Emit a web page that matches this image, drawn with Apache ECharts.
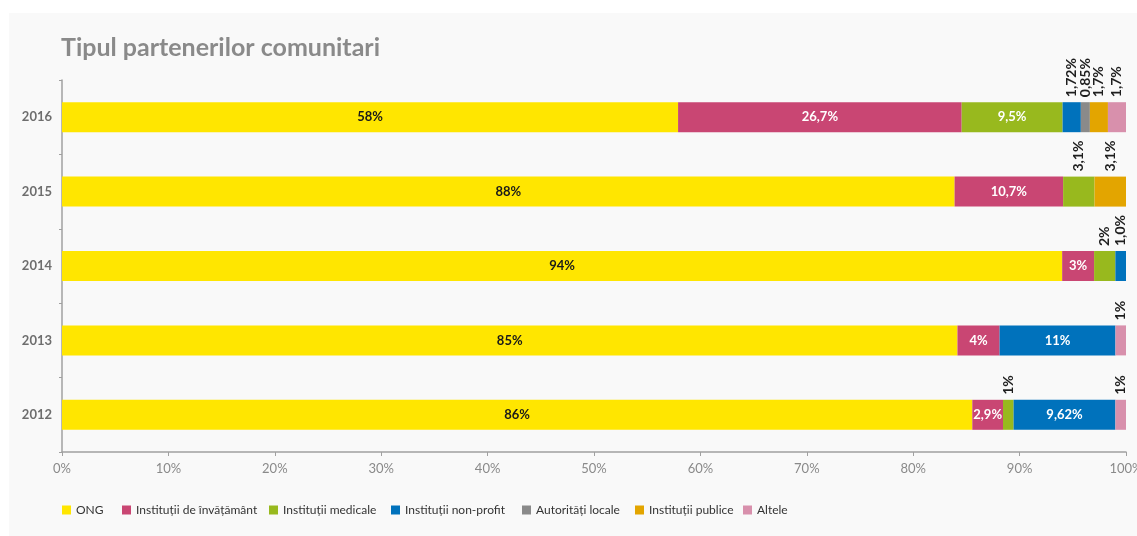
<!DOCTYPE html>
<html>
<head>
<meta charset="utf-8">
<script src="https://cdn.jsdelivr.net/npm/echarts@6/dist/echarts.min.js"></script>
<style>
  html, body { margin: 0; padding: 0; background: #ffffff; overflow: hidden; width: 1137px; height: 536px; }
  #panel { position: absolute; left: 9px; top: 13px; width: 1128px; height: 523px; background: #f9f9f9; }
  #chart { position: absolute; left: 0; top: 0; width: 1137px; height: 536px; }
</style>
</head>
<body>
<div id="panel"></div>
<div id="chart"></div>
<script>
// ---- data ----
const years = ['2016', '2015', '2014', '2013', '2012'];
const seriesNames = ['ONG', 'Instituții de învățământ', 'Instituții medicale', 'Instituții non-profit', 'Autorități locale', 'Instituții publice', 'Altele'];
const ong        = [58,   88,   94,  85, 86];
const invatamant = [26.7, 10.7, 3,   4,  2.9];
const medicale   = [9.5,  3.1,  2,   0,  1];
const nonProfit  = [1.72, 0,    1.0, 11, 9.62];
const autoritati = [0.85, 0,    0,   0,  0];
const publice    = [1.7,  3.1,  0,   0,  0];
const altele     = [1.7,  0,    0,   1,  1];
const xTicks = [0, 10, 20, 30, 40, 50, 60, 70, 80, 90, 100];
const labelOverrides = { 'Instituții non-profit|2014': '1,0%' };

// ---- styles ----
const colors = ['#FFE600', '#C94673', '#98B91E', '#0072BC', '#8A8A8A', '#E3A500', '#D890AC'];
const legendX = [62, 122, 269, 391, 522, 635, 743];
const FONT = 'Lato, "Noto Sans", sans-serif';

const allSeries = [ong, invatamant, medicale, nonProfit, autoritati, publice, altele];
const totals = years.map((y, i) => allSeries.reduce((s, arr) => s + arr[i], 0));

function fmt(v) {
  return String(v).replace('.', ',') + '%';
}

const series = allSeries.map((arr, si) => ({
  name: seriesNames[si],
  type: 'bar',
  stack: 'total',
  barWidth: 30,
  itemStyle: { color: colors[si] },
  emphasis: { disabled: true },
  data: arr.map((v, i) => {
    const txt = labelOverrides[seriesNames[si] + '|' + years[i]] || fmt(v);
    const item = { value: v === 0 ? '-' : v / totals[i] * 100 };
    if (v === 0) {
      item.label = { show: false };
    } else if (si >= 2 && v < 5) {
      item.label = {
        show: true, position: 'top', rotate: 90, align: 'left', verticalAlign: 'middle',
        distance: 5, color: '#1e1e1e', fontSize: 14, fontWeight: 'bold', fontFamily: FONT,
        formatter: () => txt
      };
    } else {
      item.label = {
        show: true, position: 'inside', color: si === 0 ? '#1a1a1a' : '#ffffff',
        fontSize: 13, fontWeight: 'bold', fontFamily: FONT,
        formatter: () => txt
      };
    }
    return item;
  })
}));

const legends = seriesNames.map((n, i) => ({
  data: [n],
  left: legendX[i],
  top: 504,
  padding: 0,
  itemWidth: 9,
  itemHeight: 9,
  icon: 'rect',
  itemGap: 0,
  selectedMode: false,
  textStyle: { color: '#333', fontSize: 12, fontFamily: FONT }
}));

const chart = echarts.init(document.getElementById('chart'), null, { renderer: 'canvas', width: 1137, height: 536 });
chart.setOption({
  animation: false,
  backgroundColor: 'transparent',
  title: {
    text: 'Tipul partenerilor comunitari',
    left: 61, top: 35, padding: 0,
    textStyle: { color: '#8a8a8a', fontSize: 25, fontWeight: 'bold', fontFamily: FONT }
  },
  legend: legends,
  grid: { left: 62, right: 11, top: 80, bottom: 84, containLabel: false, outerBoundsMode: 'none' },
  xAxis: {
    type: 'value', min: 0, max: 100, interval: 10,
    axisLine: { show: true, lineStyle: { color: '#a0a0a0', width: 1.5 } },
    axisTick: { show: true, length: 4, lineStyle: { color: '#a0a0a0' } },
    splitLine: { show: false },
    axisLabel: {
      color: '#8a8a8a', fontSize: 13, fontFamily: FONT, margin: 10,
      formatter: v => xTicks.includes(v) ? v + '%' : ''
    }
  },
  yAxis: {
    type: 'category', data: years, inverse: true,
    axisLine: { show: true, lineStyle: { color: '#a0a0a0', width: 1.5 } },
    axisTick: { show: true, length: 3, lineStyle: { color: '#a0a0a0' } },
    axisLabel: { color: '#6e6e6e', fontSize: 13, fontWeight: 'bold', fontFamily: FONT, margin: 10 }
  },
  series: series
});
</script>
</body>
</html>
